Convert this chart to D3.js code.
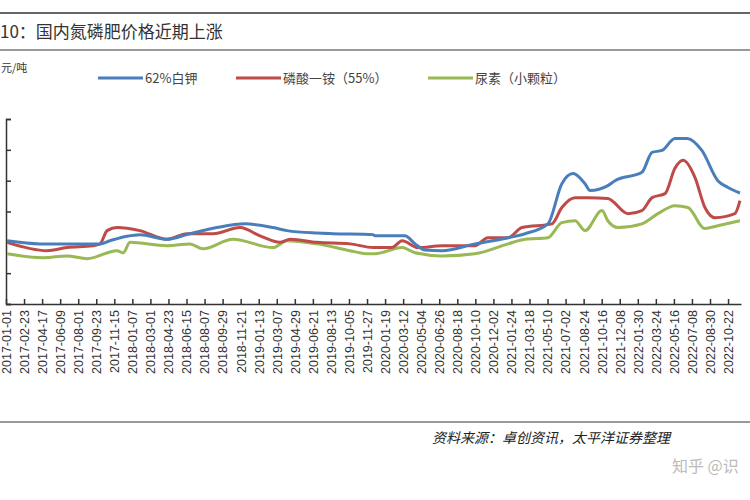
<!DOCTYPE html>
<html><head><meta charset="utf-8">
<script src="https://cdn.jsdelivr.net/npm/d3@7"></script>
<style>body{margin:0;background:#fff}</style>
</head><body>
<svg id="chart" width="750" height="500"></svg>
<script>
// Data (yuan per ton).
const potashDates = ["2017-01-04","2017-04-11","2017-10-04","2017-11-02","2017-12-22","2018-01-29","2018-04-19","2018-06-16","2018-09-12","2018-12-04","2019-02-24","2019-04-06","2019-07-03","2019-08-19","2019-12-15","2019-12-20","2020-03-17","2020-04-16","2020-05-15","2020-07-04","2020-10-09","2021-01-14","2021-03-05","2021-05-11","2021-06-21","2021-07-24","2021-08-28","2021-09-12","2021-11-03","2021-11-24","2022-02-11","2022-03-13","2022-04-11","2022-05-19","2022-06-24","2022-08-06","2022-09-22","2022-10-22","2022-11-26"];
const potashValues = [2050,1950,1950,2050,2200,2250,2100,2250,2480,2600,2480,2380,2300,2280,2250,2210,2210,1950,1750,1730,1950,2150,2280,2600,3900,4230,3900,3680,3840,4000,4270,4920,4980,5370,5370,4980,4000,3780,3600];
const mapDates = ["2017-01-04","2017-05-01","2017-06-29","2017-09-13","2017-10-04","2017-10-25","2017-11-23","2018-01-29","2018-04-19","2018-06-16","2018-09-01","2018-11-19","2019-01-17","2019-03-16","2019-04-15","2019-07-03","2019-10-08","2019-12-15","2019-12-20","2020-02-08","2020-03-09","2020-04-25","2020-07-04","2020-10-09","2020-11-16","2021-01-14","2021-02-24","2021-05-23","2021-06-21","2021-07-30","2021-09-06","2021-11-03","2022-01-01","2022-02-11","2022-03-13","2022-04-20","2022-05-19","2022-06-12","2022-07-17","2022-08-15","2022-09-14","2022-11-11","2022-11-26"];
const mapValues = [2000,1730,1830,1890,1950,2380,2480,2380,2100,2280,2280,2480,2210,2000,2100,2000,1950,1830,1830,1830,2050,1830,1890,1890,2150,2150,2480,2600,3130,3450,3450,3420,2930,3030,3450,3580,4400,4660,4100,3130,2800,2930,3350];
const ureaDates = ["2017-01-04","2017-04-20","2017-06-29","2017-08-27","2017-11-23","2017-12-11","2017-12-31","2018-04-19","2018-06-25","2018-08-02","2018-10-29","2019-02-24","2019-04-06","2019-07-03","2019-10-08","2019-11-27","2019-12-20","2020-03-09","2020-04-16","2020-07-04","2020-10-09","2021-01-14","2021-03-05","2021-05-11","2021-06-21","2021-07-30","2021-08-28","2021-10-17","2021-11-03","2021-12-03","2022-02-11","2022-03-30","2022-05-19","2022-06-26","2022-08-15","2022-09-22","2022-11-26"];
const ureaValues = [1630,1500,1560,1470,1730,1660,2000,1890,1950,1790,2100,1830,2050,1950,1730,1630,1630,1830,1660,1560,1630,1950,2100,2150,2640,2700,2380,3030,2700,2480,2600,2930,3190,3130,2450,2540,2700];
const seriesNames = ["62%白钾","磷酸一铵（55%）","尿素（小颗粒）"];
const seriesColors = ["#4a7ebb","#be4b48","#98b954"];
const tickLabels = ["2017-01-01","2017-02-23","2017-04-17","2017-06-09","2017-08-01","2017-09-23","2017-11-15","2018-01-07","2018-03-01","2018-04-23","2018-06-15","2018-08-07","2018-09-29","2018-11-21","2019-01-13","2019-03-07","2019-04-29","2019-06-21","2019-08-13","2019-10-05","2019-11-27","2020-01-19","2020-03-12","2020-05-04","2020-06-26","2020-08-18","2020-10-10","2020-12-02","2021-01-24","2021-03-18","2021-05-10","2021-07-02","2021-08-24","2021-10-16","2021-12-08","2022-01-30","2022-03-24","2022-05-16","2022-07-08","2022-08-30","2022-10-22"];
const yTicks = [0,1000,2000,3000,4000,5000,6000];

const parse = d3.timeParse("%Y-%m-%d");
const zip = (ds, vs) => ds.map((d, i) => ({ date: parse(d), value: vs[i] }));
const series = [zip(potashDates, potashValues), zip(mapDates, mapValues), zip(ureaDates, ureaValues)];

const svg = d3.select("#chart");
const m = { left: 6, right: 741, top: 119, bottom: 304 };
const x = d3.scaleTime().domain([parse("2017-01-01"), parse("2022-11-29")]).range([m.left, m.right]);
const y = d3.scaleLinear().domain([0, 6000]).range([m.bottom, m.top]);

// Header band.
svg.append("line").attr("x1", 0).attr("x2", 750).attr("y1", 13).attr("y2", 13).attr("stroke", "#666").attr("stroke-width", 2);
svg.append("line").attr("x1", 0).attr("x2", 750).attr("y1", 50).attr("y2", 50).attr("stroke", "#999").attr("stroke-width", 2);
svg.append("text").attr("x", 0).attr("y", 38).attr("font-family", "Noto Sans CJK SC").attr("font-size", 17).attr("fill", "#333").text("10：国内氮磷肥价格近期上涨");
svg.append("text").attr("x", 1).attr("y", 72).attr("font-family", "Noto Sans CJK SC").attr("font-size", 11).attr("fill", "#333").text("元/吨");

// Legend.
const legendX = [98, 236, 428];
seriesNames.forEach((name, i) => {
    const g = svg.append("g").attr("transform", `translate(${legendX[i]},78)`);
    g.append("line").attr("x1", 0).attr("x2", 45).attr("stroke", seriesColors[i]).attr("stroke-width", 3);
    g.append("text").attr("x", 47).attr("y", 5).attr("font-family", "Noto Sans CJK SC").attr("font-size", 13).attr("fill", "#444").text(name);
});

// Axes.
svg.append("g").attr("transform", `translate(${m.left},0)`)
    .call(d3.axisLeft(y).tickValues(yTicks).tickSize(-5).tickFormat(""))
    .call(g => g.selectAll("line,path").attr("stroke", "#333").attr("stroke-width", 1.5));
const xAxis = svg.append("g").attr("transform", `translate(0,${m.bottom})`)
    .call(d3.axisBottom(x).tickValues(tickLabels.map(parse)).tickSize(-5).tickSizeOuter(0).tickFormat(d3.timeFormat("%Y-%m-%d")));
xAxis.selectAll("line,path").attr("stroke", "#333").attr("stroke-width", 1.5);
xAxis.selectAll("text").attr("transform", "rotate(-90)").attr("text-anchor", "end")
    .attr("x", -6).attr("y", 0).attr("dy", "0.35em").attr("font-family", "Liberation Sans").attr("font-size", 12.5).attr("fill", "#333");

// Lines.
const line = d3.line().x(d => x(d.date)).y(d => y(d.value)).curve(d3.curveMonotoneX);
series.slice().reverse().forEach((s, k) => {
    svg.append("path").datum(s).attr("d", line).attr("fill", "none")
        .attr("stroke", seriesColors[2 - k]).attr("stroke-width", 3);
});

// Footer.
svg.append("line").attr("x1", 0).attr("x2", 750).attr("y1", 422).attr("y2", 422).attr("stroke", "#999").attr("stroke-width", 2);
svg.append("text").attr("x", 432).attr("y", 443).attr("font-family", "Noto Sans CJK SC").attr("font-size", 14).attr("font-style", "italic").attr("fill", "#222").text("资料来源：卓创资讯，太平洋证券整理");
svg.append("text").attr("x", 672).attr("y", 472).attr("font-family", "Noto Sans CJK SC").attr("font-size", 16).attr("fill", "#bbb").text("知乎 @识");
</script>
</body></html>
